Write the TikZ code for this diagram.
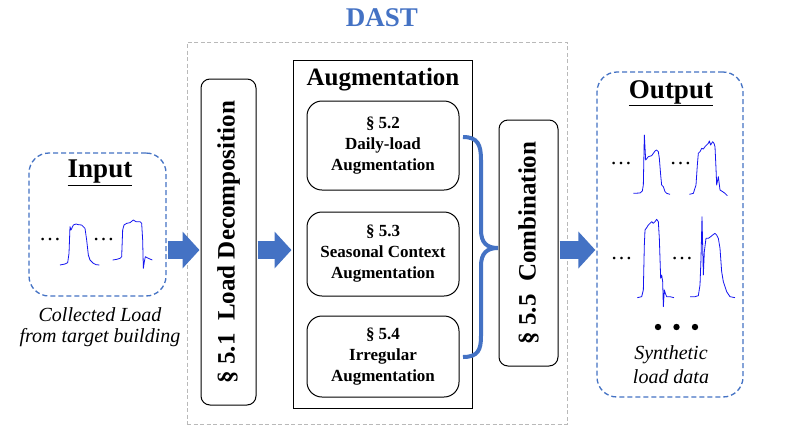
\documentclass[tikz,border=0pt]{standalone}
\usepackage{fontspec}
\setmainfont{Liberation Serif}
\usetikzlibrary{arrows.meta}
\definecolor{dblue}{HTML}{4472C4}
\definecolor{wave}{RGB}{20,20,240}
\tikzset{
  blkbox/.style={draw=black, line width=1pt, rounded corners=9pt},
  subbox/.style={draw=black, line width=1pt, rounded corners=15pt, align=center,
     font=\bfseries\fontsize{17}{21}\selectfont},
  bluedash/.style={draw=dblue, line width=1.3pt, dash pattern=on 5pt off 3pt, rounded corners=20pt},
  blockarrow/.style={draw=dblue, line width=18pt,
     -{Triangle[length=17pt,width=36pt,fill=dblue]}, shorten <=1pt, shorten >=1pt},
  wavel/.style={draw=wave, line width=0.8pt, line join=round},
  dotstxt/.style={font=\fontsize{22}{22}\selectfont, inner sep=0pt},
}
\begin{document}
\begin{tikzpicture}[x=1pt,y=-1pt]
\useasboundingbox (0,0) rectangle (790,432);
\fill[white] (0,0) rectangle (790,432);
% title
\node[text=dblue, font=\bfseries\fontsize{27}{30}\selectfont] (dast) at (382,18) {DAST};
% gray dashed frame
\node[draw=gray!55, line width=0.7pt, dash pattern=on 4pt off 2.5pt, minimum width=380, minimum height=382] (frame) at (377,233) {};
% input
\node[bluedash, minimum width=137, minimum height=143] (in) at (97.5,224.5) {};
\node[font=\bfseries\fontsize{27}{30}\selectfont] (intitle) at (100,173) {\underline{Input}};
\node[align=center, font=\itshape\fontsize{20}{21}\selectfont] (incap) at (100,327) {Collected Load\\from target building};
% load decomposition
\node[blkbox, minimum width=55, minimum height=326] (ld) at (228.5,242) {};
\node[rotate=90, font=\bfseries\fontsize{25}{28}\selectfont] (ldtext) at (ld.center) {§ 5.1~~Load Decomposition};
% augmentation
\node[draw=black, line width=1pt, minimum width=179, minimum height=348] (aug) at (382.5,234) {};
\node[font=\bfseries\fontsize{25}{28}\selectfont] (augtitle) at (383,80) {Augmentation};
\node[subbox, minimum width=152, minimum height=89] (s1) at (383,145.5) {§ 5.2\\Daily-load\\Augmentation};
\node[subbox, minimum width=152, minimum height=84] (s2) at (383,254) {§ 5.3\\Seasonal Context\\Augmentation};
\node[subbox, minimum width=152, minimum height=81] (s3) at (383,356.5) {§ 5.4\\Irregular\\Augmentation};
% combination
\node[blkbox, minimum width=59, minimum height=246] (comb) at (528.5,243) {};
\node[rotate=90, font=\bfseries\fontsize{25}{28}\selectfont] (combtext) at (comb.center) {§ 5.5~~Combination};
% output
\node[bluedash, minimum width=146, minimum height=325] (out) at (670,234.5) {};
\node[font=\bfseries\fontsize{27}{30}\selectfont] (outtitle) at (671,93) {\underline{Output}};
\node[align=center, font=\itshape\fontsize{20}{24}\selectfont] (outcap) at (671,365) {Synthetic\\load data};
% brace
\coordinate (btop) at (463,137);
\coordinate (bbot) at (463,357);
\coordinate (btip) at (498,248);
\draw[dblue, line width=4pt] (btop) .. controls (478,137) and (481,145) .. (481,160) -- (481,230) .. controls (481,243) and (487,248) .. (btip) .. controls (487,248) and (481,253) .. (481,266) -- (481,336) .. controls (481,350) and (478,357) .. (bbot);
% arrows
\coordinate (arow) at (0,250);
\draw[blockarrow] (in.east |- arow) -- (ld.west |- arow);
\draw[blockarrow] (ld.east |- arow) -- (aug.west |- arow);
\draw[blockarrow] (comb.east |- arow) -- (out.west |- arow);
% dots
\node[dotstxt] (d1) at (50,240) {…};
\node[dotstxt] (d2) at (103.5,240) {…};
\node[dotstxt] (d3) at (621,164) {…};
\node[dotstxt] (d4) at (680.5,164) {…};
\node[dotstxt] (d5) at (621.5,259) {…};
\node[dotstxt] (d6) at (682,259) {…};
\fill (658,327) circle (3.2) (676.5,327) circle (3.2) (695,327) circle (3.2);
% input waves
\begin{scope}[shift={(0,130)}, scale=1/3]
\draw[wavel] (180,405) -- (195,402) -- (203,398) -- (207,370) -- (210,290) -- (213,300) -- (220,285) -- (228,282) -- (235,284) -- (245,285) -- (255,295) -- (260,330) -- (265,375) -- (270,390) -- (280,400) -- (288,404) -- (298,405);
\draw[wavel] (338,390) -- (350,388) -- (360,385) -- (365,380) -- (368,300) -- (372,285) -- (380,280) -- (390,278) -- (400,270) -- (408,275) -- (420,275) -- (425,280) -- (428,330) -- (430,415) -- (433,395) -- (436,380) -- (445,385) -- (457,390);
\end{scope}
% output waves
\begin{scope}[shift={(600,125)}, scale=1/3]
\draw[wavel] (100,205) -- (120,204) -- (127,198) -- (130,180) -- (133,30) -- (137,105) -- (145,95) -- (155,92) -- (160,85) -- (165,78) -- (170,75) -- (175,80) -- (178,100) -- (182,150) -- (185,180) -- (190,185) -- (195,200) -- (200,205) -- (210,208);
\draw[wavel] (268,208) -- (280,205) -- (288,180) -- (292,120) -- (295,85) -- (300,80) -- (305,70) -- (310,72) -- (315,65) -- (320,60) -- (325,55) -- (328,48) -- (332,60) -- (338,50) -- (342,55) -- (345,65) -- (348,130) -- (350,180) -- (355,155) -- (360,195) -- (368,200) -- (375,205) -- (382,212);
\draw[wavel] (112,518) -- (125,515) -- (130,495) -- (133,360) -- (135,315) -- (140,308) -- (145,300) -- (150,295) -- (155,290) -- (160,295) -- (165,290) -- (170,283) -- (175,290) -- (178,340) -- (180,400) -- (182,460) -- (185,450) -- (188,470) -- (190,545) -- (193,495) -- (196,505) -- (200,515) -- (210,515) -- (222,518);
\draw[wavel] (270,515) -- (285,515) -- (295,512) -- (300,480) -- (303,400) -- (306,275) -- (310,450) -- (313,380) -- (318,340) -- (325,340) -- (332,335) -- (338,330) -- (345,325) -- (350,330) -- (355,340) -- (360,370) -- (365,440) -- (370,470) -- (380,500) -- (390,515) -- (405,518);
\end{scope}
\end{tikzpicture}
\end{document}
